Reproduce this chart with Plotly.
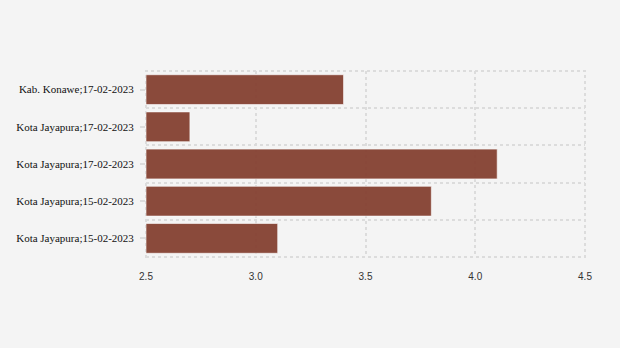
import plotly.graph_objects as go

labels = [
    "Kota Jayapura;15-02-2023",
    "Kota Jayapura;15-02-2023",
    "Kota Jayapura;17-02-2023",
    "Kota Jayapura;17-02-2023",
    "Kab. Konawe;17-02-2023",
]
values = [3.1, 3.8, 4.1, 2.7, 3.4]
positions = list(range(len(labels)))
x_ticks = [2.5, 3.0, 3.5, 4.0, 4.5]
x_ticktext = ["2.5", "3.0", "3.5", "4.0", "4.5"]
x_base = 2.5

bar_color = "rgb(133,65,50)"
grid_color = "#dcdcdc"

fig = go.Figure(
    go.Bar(
        x=[v - x_base for v in values],
        y=positions,
        base=x_base,
        orientation="h",
        marker=dict(color=bar_color, opacity=0.95,
                    line=dict(color="rgba(255,255,255,0.6)", width=1)),
        width=0.8,
        hovertext=labels,
    )
)

fig.update_layout(
    width=620,
    height=348,
    margin=dict(l=146, r=35, t=71, b=91),
    paper_bgcolor="#f4f4f4",
    plot_bgcolor="#f4f4f4",
    font=dict(family="Liberation Serif, Times New Roman, serif", size=11, color="#222"),
    showlegend=False,
    bargap=0.2,
    shapes=[
        dict(type="rect", xref="paper", yref="paper", x0=0, x1=1, y0=0, y1=1,
             line=dict(color=grid_color, width=2, dash="dot"), layer="below"),
    ],
)
fig.update_xaxes(
    range=[2.5, 4.5],
    tickvals=x_ticks,
    ticktext=x_ticktext,
    showgrid=True,
    gridcolor=grid_color,
    griddash="dot",
    gridwidth=2,
    zeroline=False,
    showline=False,
    ticks="",
    ticklabelstandoff=12,
    tickfont=dict(family="Liberation Sans, Arial, sans-serif", size=10, color="#333"),
)
fig.update_yaxes(
    range=[-0.5, len(labels) - 0.5],
    tickvals=positions,
    ticktext=labels,
    showgrid=False,
    zeroline=False,
    showline=False,
    ticks="outside",
    ticklen=5,
    tickcolor="#dcdcdc",
    tickwidth=2,
    ticklabelstandoff=4,
    minor=dict(
        tickvals=[p - 0.5 for p in positions] + [positions[-1] + 0.5],
        showgrid=True,
        gridcolor=grid_color,
        griddash="dot",
        gridwidth=2,
        ticks="",
    ),
    tickfont=dict(family="Liberation Serif, serif", size=11, color="#111"),
)

fig.write_html("out.html")
